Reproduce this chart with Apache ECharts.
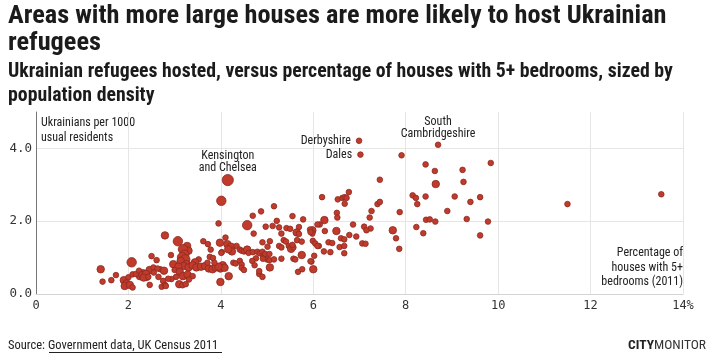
<!DOCTYPE html>
<html>
<head>
<meta charset="utf-8">
<script src="https://cdn.jsdelivr.net/npm/echarts@6/dist/echarts.min.js"></script>
<style>
html,body{margin:0;padding:0;background:#fff;}
#c{width:712px;height:361px;}
</style>
</head>
<body>
<div id="c"></div>
<script>
// ---- data ----
// % of houses with 5+ bedrooms (2011)
const pct5Bed = [
8.70,7.91,8.43,8.63,9.23,9.84,9.25,8.65,8.15,8.22,8.43,9.06,8.25,9.40,9.61,7.87,8.90,8.44,8.52,8.64,
9.32,9.78,8.23,8.38,9.61,7.72,7.79,7.86,11.50,13.53,6.99,7.02,7.44,6.19,6.53,6.63,6.68,6.72,6.77,6.68,
6.51,6.52,7.39,7.44,7.26,7.22,6.24,6.14,5.98,6.25,6.50,6.86,7.10,7.24,7.15,6.78,6.93,6.60,6.67,6.33,
6.41,6.57,6.67,7.06,7.13,6.12,6.23,6.37,6.67,6.02,5.96,6.00,4.15,4.01,5.15,4.87,4.69,5.55,5.78,5.21,
4.57,4.97,5.12,5.42,5.50,5.69,5.64,5.69,5.93,5.98,5.94,6.09,4.71,5.31,4.10,5.36,5.41,4.90,5.06,5.01,
5.26,5.31,5.47,5.52,5.57,5.55,5.65,5.75,5.99,6.04,6.09,4.14,4.22,4.24,4.16,4.02,4.34,4.41,4.45,4.50,
4.57,4.60,4.69,4.79,4.84,4.90,4.92,4.96,5.05,5.75,5.94,5.00,5.05,4.91,4.76,5.15,5.31,5.57,5.61,4.68,
4.73,4.27,4.32,4.41,4.45,4.04,3.99,4.08,5.06,4.45,4.50,4.17,4.83,4.90,5.67,5.76,3.99,4.83,3.95,2.79,
3.07,3.62,3.72,3.78,3.27,3.30,3.98,4.01,3.18,3.21,3.16,3.23,3.13,3.26,3.19,3.30,2.50,2.61,2.92,3.52,
3.44,3.39,3.47,3.57,3.66,3.74,3.82,3.89,3.95,3.76,3.83,3.86,3.71,2.97,3.08,3.00,3.11,3.03,2.93,3.18,
3.28,3.39,3.31,3.10,3.17,3.24,2.69,2.77,2.65,2.75,2.72,2.79,2.86,2.46,2.54,2.32,2.39,2.25,1.40,1.44,
1.63,1.73,2.07,1.90,1.96,1.92,2.03,2.09,2.00,2.09,2.16,2.23,2.30,2.38,2.33,2.43,2.55,2.63,2.46,2.81,
5.26
];
// Ukrainians per 1000 usual residents
const ukrPer1000 = [
4.10,3.81,3.56,3.38,3.41,3.60,3.08,3.02,2.71,2.64,2.68,2.68,2.47,2.53,2.66,2.25,2.28,2.04,2.05,1.99,
2.06,1.99,1.84,1.67,1.61,1.75,1.53,1.24,2.47,2.74,4.21,3.83,3.14,2.66,2.60,2.64,2.66,2.64,2.80,2.48,
2.23,2.10,2.47,2.53,2.28,2.10,2.03,1.91,1.75,1.73,1.73,1.91,1.85,1.80,1.75,1.62,1.58,1.53,1.50,1.42,
1.40,1.29,1.32,1.39,1.38,1.32,1.17,1.15,1.12,1.05,0.89,0.68,3.13,2.56,2.41,2.27,2.15,2.14,2.05,2.01,
1.89,1.85,1.87,1.81,1.79,1.84,1.69,1.65,1.77,1.66,1.70,1.91,1.66,1.66,1.55,1.48,1.44,1.42,1.45,1.30,
1.32,1.28,1.32,1.24,1.28,1.35,1.48,1.44,1.46,1.39,1.32,1.37,1.30,1.17,1.23,1.15,1.32,1.22,1.19,1.17,
1.22,1.13,1.15,1.16,1.12,1.16,1.04,1.10,1.10,1.07,0.90,0.95,0.93,0.97,0.98,0.95,0.97,0.97,0.95,0.91,
0.79,0.86,0.84,0.91,0.81,0.79,0.70,0.72,0.73,0.72,0.66,0.49,0.55,0.47,0.61,0.68,0.33,0.63,1.94,1.61,
1.45,1.45,1.37,1.22,1.32,1.19,1.41,1.13,1.23,1.08,1.01,0.95,0.91,0.82,0.77,0.73,1.04,0.93,1.07,0.95,
0.87,0.79,0.73,0.75,0.77,0.70,0.68,0.73,0.75,1.02,0.99,0.86,0.86,0.82,0.75,0.66,0.61,0.47,0.41,0.49,
0.53,0.49,0.40,0.27,0.24,0.27,0.68,0.64,0.47,0.36,0.20,0.25,0.42,0.66,0.73,0.57,0.47,0.49,0.68,0.34,
0.38,0.52,0.87,0.38,0.29,0.22,0.25,0.18,0.46,0.54,0.55,0.64,0.52,0.55,0.45,0.47,0.59,0.70,0.25,0.22,
1.83
];
// population density (people per hectare)
const density = [
3,3,3,3,3,3,3,25,3,3,3,3,3,3,3,3,3,3,3,3,
3,3,3,3,3,25,3,3,3,3,3,3,3,3,3,3,3,3,3,3,
3,3,3,3,3,3,25,3,25,3,25,3,3,3,3,3,3,3,3,3,
3,3,3,3,3,3,3,3,3,3,3,25,130,70,3,3,3,3,3,3,
70,3,3,3,3,3,25,3,3,3,3,3,3,3,3,3,3,3,3,3,
3,3,3,25,3,3,3,3,3,3,3,25,25,25,25,3,3,3,3,3,
25,3,3,3,3,3,3,3,3,25,3,3,3,3,3,3,3,3,3,3,
3,3,3,3,3,25,25,25,25,3,3,25,3,3,3,3,25,3,3,25,
70,3,3,3,25,25,25,3,70,70,70,70,25,25,25,25,3,3,3,3,
25,25,25,25,25,25,25,25,25,3,3,3,3,25,25,3,25,3,3,25,
25,3,3,25,3,3,3,25,3,3,3,3,3,25,3,25,25,25,25,3,
3,3,70,25,25,25,25,3,3,3,3,3,25,25,25,3,3,3,3,3,
3
];
// labelled areas: index into the arrays above
const labelledAreas = [
  {i: 0,  name: 'South\nCambridgeshire', side: 'top'},
  {i: 30, name: 'Derbyshire', side: 'left'},
  {i: 31, name: 'Dales', side: 'left'},
  {i: 72, name: 'Kensington\nand Chelsea', side: 'top'}
];
const xTicks = [0, 2, 4, 6, 8, 10, 12, 14];
const yTicks = [0, 2, 4];

// ---- chart ----
const COND = '"Liberation Sans Narrow", "Roboto Condensed", "DejaVu Sans Condensed", Roboto, sans-serif';
const MONO = '"DejaVu Sans Mono", "Liberation Mono", monospace';

const labelMap = {};
labelledAreas.forEach(l => labelMap[l.i] = l);

const points = pct5Bed.map((x, i) => {
  const item = {value: [x, ukrPer1000[i], density[i]]};
  const l = labelMap[i];
  if (l) {
    item.label = {
      show: true, position: l.side,
      distance: l.i === 72 ? 0 : (l.side === 'top' ? 2 : 5),
      formatter: l.name, color: '#222', fontFamily: COND, fontSize: 12, lineHeight: 12,
      align: l.side === 'left' ? 'right' : 'center'
    };
  }
  return item;
});

const chart = echarts.init(document.getElementById('c'), null, {renderer: 'canvas'});
chart.setOption({
  animation: false,
  backgroundColor: '#fff',
  grid: {left: 36, right: 29, top: 112, bottom: 67},
  xAxis: {
    type: 'value', min: xTicks[0], max: xTicks[xTicks.length - 1], interval: 2,
    axisLine: {show: true, lineStyle: {color: '#d4d4d4'}},
    axisTick: {show: false},
    splitLine: {show: true, lineStyle: {color: '#e6e6e6'}},
    axisLabel: {
      margin: 6, color: '#333', fontFamily: MONO, fontSize: 12,
      formatter: v => xTicks.indexOf(v) < 0 ? '' : (v === 14 ? '14%' : String(v))
    }
  },
  yAxis: {
    type: 'value', min: 0, max: 5, interval: 2,
    axisLine: {show: true, lineStyle: {color: '#777'}},
    axisTick: {show: false},
    splitLine: {show: true, showMaxLine: false, lineStyle: {color: '#e6e6e6'}},
    axisLabel: {
      margin: 4, color: '#333', fontFamily: MONO, fontSize: 12.5, showMaxLabel: false,
      formatter: v => yTicks.indexOf(v) < 0 ? '' : v.toFixed(1)
    }
  },
  series: [{
    type: 'scatter',
    data: points,
    symbolSize: v => 4.6 + Math.sqrt(v[2]) * 0.58,
    itemStyle: {color: '#c23a2c', borderColor: '#8a2b21', borderWidth: 0.8, opacity: 1}
  }],
  graphic: [
    {type: 'text', left: 8, top: 3, style: {text: 'Areas with more large houses are more likely to host Ukrainian', font: 'bold 26.3px ' + COND, fill: '#1b1b1b'}},
    {type: 'text', left: 8, top: 30, style: {text: 'refugees', font: 'bold 26.3px ' + COND, fill: '#1b1b1b'}},
    {type: 'text', left: 8, top: 62, style: {text: 'Ukrainian refugees hosted, versus percentage of houses with 5+ bedrooms, sized by', font: 'bold 19.8px ' + COND, fill: '#1b1b1b'}},
    {type: 'text', left: 8, top: 86, style: {text: 'population density', font: 'bold 19.8px ' + COND, fill: '#1b1b1b'}},
    {type: 'text', left: 41, top: 115, style: {text: 'Ukrainians per 1000\nusual residents', font: '12px ' + COND, lineHeight: 15, fill: '#222'}},
    {type: 'text', right: 29, top: 247, style: {text: 'Percentage of', font: '12px ' + COND, fill: '#222'}},
    {type: 'text', right: 29, top: 261.5, style: {text: 'houses with 5+', font: '12px ' + COND, fill: '#222'}},
    {type: 'text', right: 29, top: 276, style: {text: 'bedrooms (2011)', font: '12px ' + COND, fill: '#222'}},
    {type: 'text', left: 8, top: 339, style: {text: 'Source: Government data, UK Census 2011', font: '12.5px ' + COND, fill: '#222'}},
    {type: 'line', shape: {x1: 49, y1: 352.5, x2: 222, y2: 352.5}, style: {stroke: '#222', lineWidth: 1}},
    {type: 'text', right: 6, top: 339, style: {
      text: '{a|CITY}{b|MONITOR}',
      rich: {a: {font: 'bold 13.5px ' + COND, fill: '#222'}, b: {font: '13.5px ' + COND, fill: '#333'}}
    }}
  ]
});
</script>
</body>
</html>
